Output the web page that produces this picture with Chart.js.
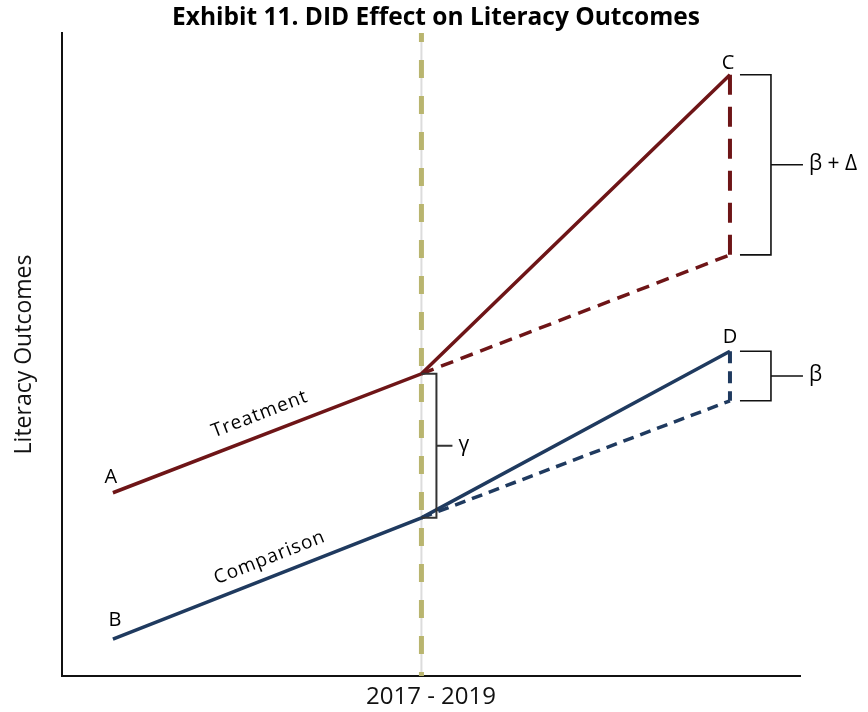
<!DOCTYPE html>
<html>
<head>
<meta charset="utf-8">
<script src="https://cdn.jsdelivr.net/npm/chart.js@4.4.1/dist/chart.umd.min.js"></script>
<style>
  html, body { margin: 0; padding: 0; background: #fff; }
  #wrap { width: 868px; height: 712px; }
</style>
</head>
<body>
<div id="wrap"><canvas id="didChart" width="868" height="712"></canvas></div>
<script>
// time points: baseline, 2017-2019 (program start), endline
var periods = [0, 1, 2];
var treatmentValues = [28.5, 47.0, 93.5];
var treatmentNoProgram = [47.0, 65.5];    // treatment trend if no program
var comparisonValues = [5.75, 24.6, 50.5];
var comparisonNoProgram = [24.6, 42.8];   // comparison trend if no program
var pointLabels = ['A', 'B', 'C', 'D'];
var lineLabels = ['Treatment', 'Comparison'];
var effectLabels = ['γ', 'β + Δ', 'β'];
var chartTitle = 'Exhibit 11. DID Effect on Literacy Outcomes';
var xAxisLabel = '2017 - 2019';
var yAxisLabel = 'Literacy Outcomes';
var xRange = [-0.165, 2.227];
var yRange = [0, 100];

var RED = '#6e1517';
var BLUE = '#1f3a5f';
var OLIVE = '#b9b56f';

function pts(xs, ys) {
    return ys.map(function(y, i) { return { x: xs[i], y: y }; });
}

function lineSet(data, color, width, dash) {
    return {
        data: data,
        borderColor: color,
        backgroundColor: color,
        borderWidth: width,
        borderDash: dash || [],
        pointRadius: 0,
        tension: 0,
        fill: false
    };
}

var datasets = [
    lineSet(pts(periods, treatmentValues), RED, 3.5),
    lineSet(pts(periods, comparisonValues), BLUE, 3.5),
    lineSet(pts(periods.slice(1), treatmentNoProgram), RED, 3.5, [13, 8]),
    lineSet(pts(periods.slice(1), comparisonNoProgram), BLUE, 3.5, [11, 7]),
    lineSet(pts([2, 2], [treatmentValues[2], treatmentNoProgram[1]]), RED, 4, [20, 12]),
    lineSet(pts([2, 2], [comparisonValues[2], comparisonNoProgram[1]]), BLUE, 4, [12, 8]),
    // program start marker
    lineSet(pts([1, 1], [yRange[1], yRange[0]]), OLIVE, 5, [18, 18]),
    lineSet(pts([1, 1], [yRange[1], yRange[0]]), '#dcdcdc', 2)
];
datasets[6].borderDashOffset = 9;

// title, brackets, point letters and line names
var annotate = {
    id: 'annotate',
    afterDatasetsDraw: function(chart) {
        var ctx = chart.ctx;
        var xs = chart.scales.x, ys = chart.scales.y;
        var px = function(v) { return xs.getPixelForValue(v); };
        var py = function(v) { return ys.getPixelForValue(v); };

        ctx.save();
        ctx.lineCap = 'butt';

        // title sits a bit right of the plot centre, as in the original
        ctx.fillStyle = '#000';
        ctx.font = 'bold 24.5px "Open Sans"';
        ctx.textAlign = 'center';
        ctx.textBaseline = 'middle';
        ctx.fillText(chartTitle, 436, 18);

        function bracket(xStart, xEdge, yTop, yBot, tickLen, color, width, label) {
            var mid = (yTop + yBot) / 2;
            ctx.strokeStyle = color;
            ctx.lineWidth = width;
            ctx.beginPath();
            ctx.moveTo(xStart, yTop);
            ctx.lineTo(xEdge, yTop);
            ctx.lineTo(xEdge, yBot);
            ctx.lineTo(xStart, yBot);
            ctx.moveTo(xEdge, mid);
            ctx.lineTo(xEdge + tickLen, mid);
            ctx.stroke();
            ctx.fillStyle = '#000';
            ctx.font = '21px "Open Sans"';
            ctx.textAlign = 'left';
            ctx.textBaseline = 'middle';
            ctx.fillText(label, xEdge + tickLen + 6, mid - 1);
        }

        var xMid = px(periods[1]), xEnd = px(periods[2]);
        bracket(xMid, xMid + 15, py(treatmentValues[1]), py(comparisonValues[1]), 16, '#333', 2, effectLabels[0]);
        bracket(xEnd + 10, xEnd + 41, py(treatmentValues[2]), py(treatmentNoProgram[1]), 32, '#111', 1.6, effectLabels[1]);
        bracket(xEnd + 10, xEnd + 41, py(comparisonValues[2]), py(comparisonNoProgram[1]), 32, '#111', 1.6, effectLabels[2]);

        // letters at the ends of the lines
        ctx.fillStyle = '#000';
        ctx.font = '20px "Open Sans"';
        ctx.textAlign = 'center';
        ctx.textBaseline = 'middle';
        ctx.fillText(pointLabels[0], px(periods[0]) - 2, py(treatmentValues[0]) - 15);
        ctx.fillText(pointLabels[1], px(periods[0]) + 2, py(comparisonValues[0]) - 19);
        ctx.fillText(pointLabels[2], px(periods[2]) - 2, py(treatmentValues[2]) - 11);
        ctx.fillText(pointLabels[3], px(periods[2]), py(comparisonValues[2]) - 14);

        // names along the first segment
        function along(text, values, frac, offset) {
            var x0 = px(periods[0]), y0 = py(values[0]);
            var x1 = px(periods[1]), y1 = py(values[1]);
            var ang = Math.atan2(y1 - y0, x1 - x0);
            ctx.save();
            ctx.translate(x0 + (x1 - x0) * frac, y0 + (y1 - y0) * frac);
            ctx.rotate(ang);
            ctx.font = '19px "Open Sans"';
            ctx.letterSpacing = '1px';
            ctx.textAlign = 'center';
            ctx.textBaseline = 'alphabetic';
            ctx.fillText(text, 0, -offset);
            ctx.restore();
        }
        along(lineLabels[0], treatmentValues, 0.5, 15);
        along(lineLabels[1], comparisonValues, 0.53, 13);

        ctx.restore();
    }
};

var ctx = document.getElementById('didChart').getContext('2d');
var didChart = new Chart(ctx, {
    type: 'line',
    data: { datasets: datasets },
    options: {
        responsive: false,
        animation: false,
        devicePixelRatio: 1,
        layout: { padding: { left: 11, right: 68, top: 33, bottom: 0 } },
        plugins: {
            legend: { display: false },
            tooltip: { enabled: false },
            title: { display: false }
        },
        scales: {
            x: {
                type: 'linear',
                min: xRange[0],
                max: xRange[1],
                grid: { display: false, drawTicks: false },
                ticks: { display: false },
                border: { display: true, color: '#111', width: 2 },
                title: {
                    display: true,
                    text: xAxisLabel,
                    color: '#111',
                    font: { family: 'Open Sans', size: 24 },
                    padding: { top: 6.6, bottom: 0.6 }
                }
            },
            y: {
                type: 'linear',
                min: yRange[0],
                max: yRange[1],
                grid: { display: false, drawTicks: false },
                ticks: { display: false },
                border: { display: true, color: '#111', width: 2 },
                title: {
                    display: true,
                    text: yAxisLabel,
                    color: '#111',
                    font: { family: 'Open Sans', size: 23 },
                    padding: { top: 0, bottom: 23.4 }
                }
            }
        }
    },
    plugins: [annotate]
});
</script>
</body>
</html>
